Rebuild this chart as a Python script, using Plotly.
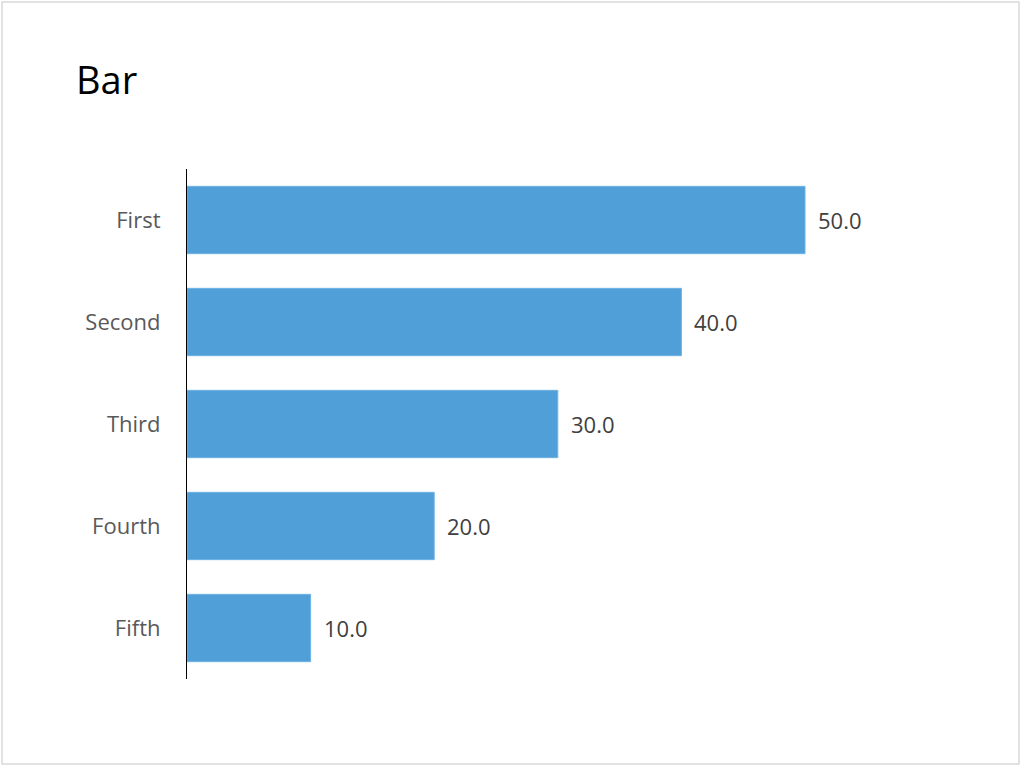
import plotly.graph_objects as go

categories = ["First", "Second", "Third", "Fourth", "Fifth"]
values = [50.0, 40.0, 30.0, 20.0, 10.0]
value_labels = [f"{v:.1f}" for v in values]

BAR_COLOR = "#519fd9"
FONT = "Open Sans"

W, H = 1024, 769
ML, MR, MT, MB = 187, 23, 169, 90
pw = W - ML - MR
ph = H - MT - MB

fig = go.Figure(
    go.Bar(
        x=values,
        y=categories,
        orientation="h",
        marker=dict(color=BAR_COLOR, line=dict(color="#6fb2e3", width=1)),
        hoverinfo="skip",
    )
)

for c, v, t in zip(categories, values, value_labels):
    fig.add_annotation(
        x=v, y=c, text=t, showarrow=False, xanchor="left", xshift=11,
        font=dict(family=FONT, size=22, color="#404040"),
    )

# outer border
fig.add_shape(
    type="rect", xref="paper", yref="paper",
    x0=(2 - ML) / pw, x1=(1019 - ML) / pw,
    y0=(MT + ph - 764) / ph, y1=(MT + ph - 2) / ph,
    line=dict(color="#d9d9d9", width=1.5), fillcolor="rgba(0,0,0,0)",
    layer="below",
)

fig.update_layout(
    width=W, height=H,
    margin=dict(l=ML, r=MR, t=MT, b=MB, pad=0),
    paper_bgcolor="white", plot_bgcolor="white",
    bargap=0.34,
    showlegend=False,
    title=dict(
        text="Bar", xref="container", yref="container",
        x=76 / W, xanchor="left", y=1 - 67 / H, yanchor="top",
        font=dict(family=FONT, size=38, color="#000000"),
    ),
    xaxis=dict(
        range=[0, pw / (618 / 50)], visible=False, showgrid=False, zeroline=False,
    ),
    yaxis=dict(
        autorange="reversed", showline=True, linecolor="#000000", linewidth=1.2,
        showgrid=False, zeroline=False, ticks="", ticklabelstandoff=21,
        tickfont=dict(family=FONT, size=22, color="#595959"),
    ),
)

fig.write_html("out.html")
